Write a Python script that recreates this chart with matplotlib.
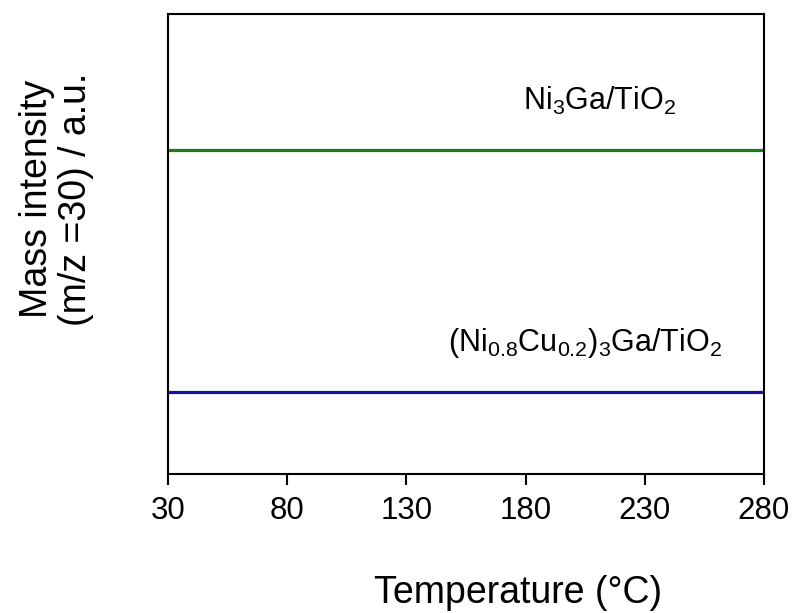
import numpy as np
import matplotlib
matplotlib.use("Agg")
import matplotlib.pyplot as plt

plt.rcParams['font.family'] = ['Liberation Sans', 'DejaVu Sans']
plt.rcParams['mathtext.fontset'] = 'custom'
plt.rcParams['mathtext.rm'] = 'Liberation Sans'
plt.rcParams['mathtext.it'] = 'Liberation Sans'
plt.rcParams['mathtext.default'] = 'regular'

# temperature range and flat m/z=30 signals (normalised, offset)
temp = [30, 280]
ni3ga = [0.704, 0.704]
nicu = [0.178, 0.178]
xticks = [30, 80, 130, 180, 230, 280]

fig = plt.figure(figsize=(7.94, 6.13), dpi=100)
ax = fig.add_axes([0.2116, 0.2268, 0.7506, 0.7504])

ax.plot(temp, ni3ga, color='#1b7a1b', linewidth=2.3)
ax.plot(temp, nicu, color='#12129a', linewidth=2.3)

ax.text(211, 0.81, 'Ni$_3$Ga/TiO$_2$', fontsize=22, ha='center', va='center')
ax.text(205, 0.285, '(Ni$_{0.8}$Cu$_{0.2}$)$_3$Ga/TiO$_2$', fontsize=22,
        ha='center', va='center')

ax.set_xlim(30, 280)
ax.set_ylim(0, 1)
ax.set_xticks(xticks)
ax.set_yticks([])
ax.tick_params(axis='x', direction='out', length=8, width=1.5, labelsize=22.5, pad=8)
for s in ax.spines.values():
    s.set_linewidth(1.5)

ax.set_xlabel('Temperature (°C)', fontsize=27, labelpad=35)
ax.xaxis.label.set_x(0.587)
ax.set_ylabel('Mass intensity\n(m/z =30) / a.u.', fontsize=27, linespacing=1.1)
ax.yaxis.set_label_coords(-0.124, 0.598)

fig.savefig('out.png', dpi=100)
